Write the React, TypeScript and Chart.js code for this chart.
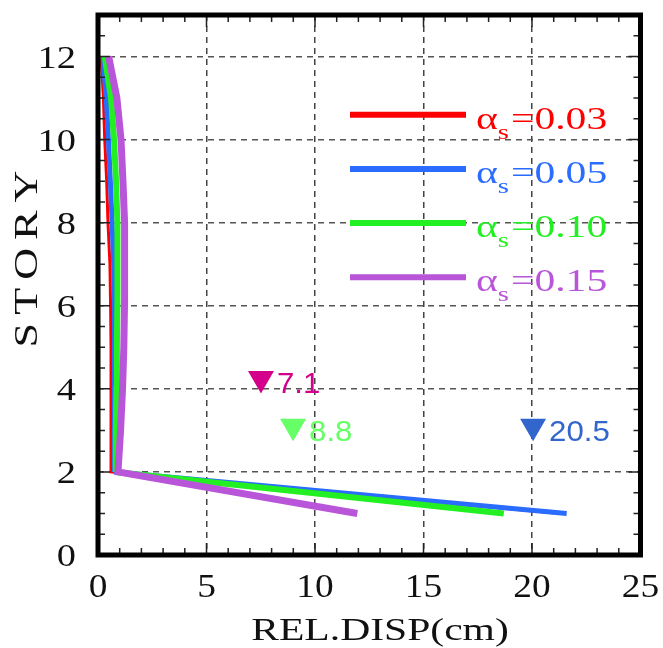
import React, { useEffect, useRef } from 'react';
import { Chart, registerables } from 'chart.js';

Chart.register(...registerables);

// ---- data ----
const stories = [1, 2, 3, 4, 5, 6, 7, 8, 9, 10, 11, 12];
const alphaLabels = ['0.03', '0.05', '0.10', '0.15'];
const disp003 = [21.3, 0.6, 0.6, 0.6, 0.6, 0.58, 0.55, 0.46, 0.4, 0.31, 0.25, 0.14];
const disp005 = [21.6, 0.74, 0.75, 0.76, 0.76, 0.75, 0.72, 0.65, 0.57, 0.48, 0.38, 0.22];
const disp010 = [18.7, 0.8, 0.82, 0.85, 0.87, 0.89, 0.9, 0.89, 0.83, 0.74, 0.6, 0.31];
const disp015 = [11.95, 0.92, 1.04, 1.13, 1.19, 1.22, 1.24, 1.21, 1.15, 1.06, 0.87, 0.49];
const seriesColors = ['#ff0000', '#2a6cff', '#22f022', '#b955d9'];
const seriesWidths = [3, 5, 6, 7];

const markerX = [7.51, 8.99, 20.05];
const markerY = [4.25, 3.1, 3.1];
const markerLabels = ['7.1', '8.8', '20.5'];
const markerColors = ['#d4008c', '#66ff66', '#3366cc'];

const xTickValues = [0, 5, 10, 15, 20, 25];
const yTickValues = [0, 2, 4, 6, 8, 10, 12];
const xTitle = 'REL.DISP(cm)';
const yTitle = 'STORY';

const SERIF = '"Liberation Serif", "Times New Roman", serif';
const SANS = '"Liberation Sans", Arial, sans-serif';

function stretchText(ctx: CanvasRenderingContext2D, text: string, x: number, y: number, sx: number, align: CanvasTextAlign) {
  ctx.save();
  ctx.translate(x, y);
  ctx.scale(sx, 1);
  ctx.textAlign = align;
  ctx.textBaseline = 'alphabetic';
  ctx.fillText(text, 0, 0);
  ctx.restore();
}

function spacedText(ctx: CanvasRenderingContext2D, text: string, sx: number, spacing: number) {
  const ws = text.split('').map((c) => ctx.measureText(c).width * sx);
  const total = ws.reduce((a, b) => a + b, 0) + spacing * (text.length - 1);
  let x = -total / 2;
  ctx.textAlign = 'left';
  ctx.textBaseline = 'alphabetic';
  text.split('').forEach((c, i) => {
    ctx.save();
    ctx.translate(x, 0);
    ctx.scale(sx, 1);
    ctx.fillText(c, 0, 0);
    ctx.restore();
    x += ws[i] + spacing;
  });
}

const decorPlugin = {
  id: 'decor',
  afterDraw(chart: any) {
    const ctx: CanvasRenderingContext2D = chart.ctx;
    const a = chart.chartArea;
    const xs = chart.scales.x;
    const ys = chart.scales.y;
    ctx.save();

    // inward ticks on all four sides
    ctx.strokeStyle = '#222';
    ctx.lineWidth = 1.5;
    for (let v = 1; v < 25; v++) {
      const px = xs.getPixelForValue(v);
      const len = v % 5 === 0 ? 12 : 7;
      ctx.beginPath();
      ctx.moveTo(px, a.bottom);
      ctx.lineTo(px, a.bottom - len);
      ctx.moveTo(px, a.top);
      ctx.lineTo(px, a.top + len);
      ctx.stroke();
    }
    for (let v = 0.5; v < 13; v += 0.5) {
      const py = ys.getPixelForValue(v);
      const len = v % 2 === 0 ? 12 : 7;
      ctx.beginPath();
      ctx.moveTo(a.left, py);
      ctx.lineTo(a.left + len, py);
      ctx.moveTo(a.right, py);
      ctx.lineTo(a.right - len, py);
      ctx.stroke();
    }

    // frame
    ctx.strokeStyle = '#000';
    ctx.lineWidth = 5;
    ctx.strokeRect(a.left, a.top, a.right - a.left, a.bottom - a.top);

    // tick labels
    ctx.fillStyle = '#111';
    ctx.font = `32px ${SERIF}`;
    yTickValues.forEach((v) => {
      stretchText(ctx, String(v), a.left - 22, ys.getPixelForValue(v) + 11, 1.2, 'right');
    });
    ctx.font = `34px ${SERIF}`;
    xTickValues.forEach((v) => {
      stretchText(ctx, String(v), xs.getPixelForValue(v), a.bottom + 42, 1.1, 'center');
    });

    // axis titles
    ctx.font = `32px ${SERIF}`;
    ctx.save();
    ctx.translate(a.left + 282, a.bottom + 85);
    spacedText(ctx, xTitle, 1.3, 0);
    ctx.restore();
    ctx.font = `34px ${SERIF}`;
    ctx.save();
    ctx.translate(a.left - 61, a.top + 244);
    ctx.rotate(-Math.PI / 2);
    spacedText(ctx, yTitle, 1.3, 8);
    ctx.restore();

    // legend
    alphaLabels.forEach((lab, i) => {
      const y = a.top + 99.7 + i * 54.2;
      ctx.strokeStyle = seriesColors[i];
      ctx.lineWidth = 6;
      ctx.lineCap = 'butt';
      ctx.beginPath();
      ctx.moveTo(a.left + 252, y);
      ctx.lineTo(a.left + 368, y);
      ctx.stroke();
      ctx.fillStyle = seriesColors[i];
      let x = a.left + 378;
      ctx.font = `32px ${SERIF}`;
      stretchText(ctx, '\u03b1', x, y + 14, 1.3, 'left');
      x += ctx.measureText('\u03b1').width * 1.3;
      ctx.font = `22px ${SERIF}`;
      stretchText(ctx, 's', x, y + 24, 1.3, 'left');
      x += ctx.measureText('s').width * 1.3 + 2;
      ctx.font = `32px ${SERIF}`;
      stretchText(ctx, '=' + lab, x, y + 14, 1.3, 'left');
    });

    // marker value labels
    const meta = chart.getDatasetMeta(4);
    ctx.font = `30px ${SANS}`;
    meta.data.forEach((el: any, i: number) => {
      ctx.fillStyle = markerColors[i];
      stretchText(ctx, markerLabels[i], el.x + 16, el.y + 15, 1.04, 'left');
    });

    ctx.restore();
  },
};

export default function App() {
  const ref = useRef<HTMLCanvasElement>(null);
  useEffect(() => {
    if (!ref.current) return;
    const series = [disp003, disp005, disp010, disp015];
    const datasets: any[] = series.map((vals, i) => ({
      label: 'αs=' + alphaLabels[i],
      data: stories.map((s, k) => ({ x: vals[k], y: s })),
      showLine: true,
      borderColor: seriesColors[i],
      backgroundColor: seriesColors[i],
      borderWidth: seriesWidths[i],
      pointRadius: 0,
      tension: 0,
      fill: false,
      borderJoinStyle: 'miter',
      borderCapStyle: 'butt',
      order: 4 - i,
    }));
    datasets.push({
      label: 'markers',
      data: markerX.map((x, i) => ({ x, y: markerY[i] })),
      showLine: false,
      pointStyle: 'triangle',
      rotation: 180,
      pointRadius: 15,
      pointHoverRadius: 15,
      backgroundColor: markerColors,
      borderColor: markerColors,
      borderWidth: 0,
      order: 0,
    });
    const chart = new Chart(ref.current, {
      type: 'scatter',
      data: { datasets },
      options: {
        responsive: false,
        animation: false,
        devicePixelRatio: 1,
        layout: { padding: { left: 98, top: 11, right: 22.5, bottom: 93 } },
        plugins: { legend: { display: false }, tooltip: { enabled: false } },
        scales: {
          x: {
            type: 'linear',
            min: 0,
            max: 25,
            ticks: { display: false, stepSize: 5 },
            grid: { color: '#444', lineWidth: 1.5, drawTicks: false },
            border: { display: false, dash: [6, 5] },
          },
          y: {
            type: 'linear',
            min: 0,
            max: 13,
            ticks: { display: false, stepSize: 2, includeBounds: false },
            grid: { color: '#555', lineWidth: 1.5, drawTicks: false },
            border: { display: false, dash: [6, 5] },
          },
        },
      },
      plugins: [decorPlugin],
    });
    return () => chart.destroy();
  }, []);
  return (
    <div style={{ position: 'absolute', left: 0, top: 0, width: 663, height: 648, background: '#fff' }}>
      <canvas ref={ref} width={663} height={648} style={{ display: 'block' }} />
    </div>
  );
}
